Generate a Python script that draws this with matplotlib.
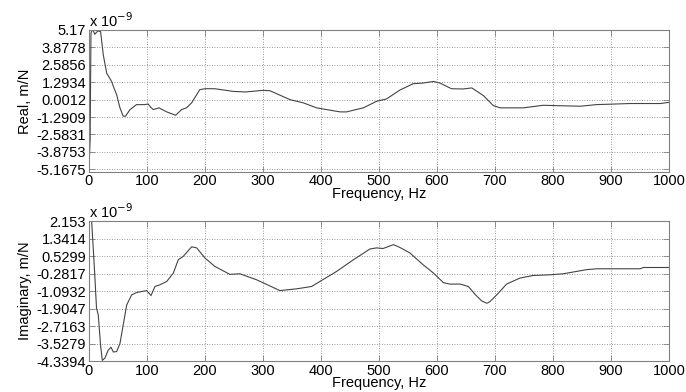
import numpy as np
import matplotlib
matplotlib.use('Agg')
import matplotlib.pyplot as plt

plt.rcParams['font.family'] = ['Liberation Sans', 'DejaVu Sans']

# Real part (x 1e-9 m/N)
freqReal = [0, 2, 3.4, 5, 7.5, 10, 13, 16, 20, 24.7, 30.5, 39, 43, 47.7, 53.4, 59, 63,
            70.7, 82, 96.6, 102, 106, 111, 120.7, 134, 149.4, 159.7, 168, 177, 191,
            200, 217, 249, 270, 300, 312, 346.6, 369.5, 392.5, 432.8, 444, 473, 496,
            513, 536, 559, 576, 594, 605, 625, 645, 660, 680, 697, 709, 749, 783,
            847, 875, 933, 985, 1000]
real = [-5.1, -3.0, 4.9, 5.17, 5.1, 4.85, 5.0, 5.1, 5.05, 3.32, 1.97, 1.35, 0.87,
        0.37, -0.61, -1.23, -1.23, -0.74, -0.37, -0.37, -0.32, -0.55, -0.74, -0.61,
        -0.91, -1.16, -0.74, -0.61, -0.24, 0.74, 0.81, 0.81, 0.61, 0.57, 0.69, 0.66,
        0.0, -0.24, -0.61, -0.91, -0.91, -0.61, -0.12, 0.05, 0.71, 1.18, 1.23, 1.35,
        1.23, 0.81, 0.79, 0.87, 0.30, -0.44, -0.61, -0.61, -0.42, -0.49, -0.37,
        -0.29, -0.29, -0.2]

# Imaginary part (x 1e-9 m/N)
freqImag = [2, 4.6, 10, 13, 16, 20, 23, 27.6, 33, 38, 42, 47.7, 53.4, 59, 65, 73.6,
            82, 99.4, 107, 113.8, 122.4, 134, 145.4, 154, 162.6, 177, 185.7, 200,
            217, 243, 260, 289, 329, 358, 384, 398, 427, 456, 484.5, 496, 507, 525,
            536, 553, 576, 594, 611, 622, 640, 654, 665.5, 677, 686, 691, 703, 720,
            743, 766, 795, 818, 858, 875, 950, 956, 1000]
imag = [2.15, 2.15, -0.34, -1.89, -2.20, -3.61, -4.31, -4.2, -3.84, -3.7, -3.92,
        -3.9, -3.53, -2.67, -1.74, -1.27, -1.16, -1.07, -1.30, -0.88, -0.80, -0.65,
        -0.26, 0.36, 0.52, 0.96, 0.91, 0.44, 0.05, -0.32, -0.29, -0.57, -1.07, -0.99,
        -0.88, -0.65, -0.18, 0.36, 0.86, 0.91, 0.88, 1.06, 0.93, 0.68, 0.13, -0.26,
        -0.70, -0.77, -0.77, -0.88, -1.24, -1.55, -1.66, -1.59, -1.27, -0.77, -0.49,
        -0.37, -0.34, -0.29, -0.10, -0.06, -0.06, 0.0, 0.0]

realTicks = [5.17, 3.8778, 2.5856, 1.2934, 0.0012, -1.2909, -2.5831, -3.8753, -5.1675]
imagTicks = [2.153, 1.3414, 0.5299, -0.2817, -1.0932, -1.9047, -2.7163, -3.5279, -4.3394]
xTicks = [0, 100, 200, 300, 400, 500, 600, 700, 800, 900, 1000]

fig = plt.figure(figsize=(6.86, 3.92), dpi=100)
axTop = fig.add_axes([0.1297, 0.562, 0.8455, 0.3615])
axBot = fig.add_axes([0.1297, 0.079, 0.8455, 0.357])

panels = [
    (axTop, freqReal, real, realTicks, (-5.35, 5.17), 'Real, m/N'),
    (axBot, freqImag, imag, imagTicks, (-4.3394, 2.153), 'Imaginary, m/N'),
]
for ax, f, v, yt, ylim, ylab in panels:
    ax.plot(f, v, color='#444444', linewidth=0.8)
    ax.set_xlim(0, 1000)
    ax.set_ylim(*ylim)
    ax.set_xticks(xTicks)
    ax.set_xticklabels([str(t) for t in xTicks])
    ax.set_yticks(yt)
    ax.set_yticklabels([f'{t:g}' for t in yt])
    ax.grid(True, linestyle=(0, (1, 2)), color='#777777', linewidth=0.6)
    ax.tick_params(direction='in', top=True, right=True, length=4, width=0.6,
                   color='#808080', labelsize=10.5, pad=2)
    for s in ax.spines.values():
        s.set_color('#808080')
        s.set_linewidth(0.8)
    ax.set_xlabel('Frequency, Hz', fontsize=10.5, labelpad=-1)
    ax.set_ylabel(ylab, fontsize=10.5, labelpad=3)
    ax.text(0.0, 1.0, r'x 10$^{-9}$', transform=ax.transAxes, fontsize=10.5,
            ha='left', va='bottom')

fig.savefig('out.png', dpi=100)
